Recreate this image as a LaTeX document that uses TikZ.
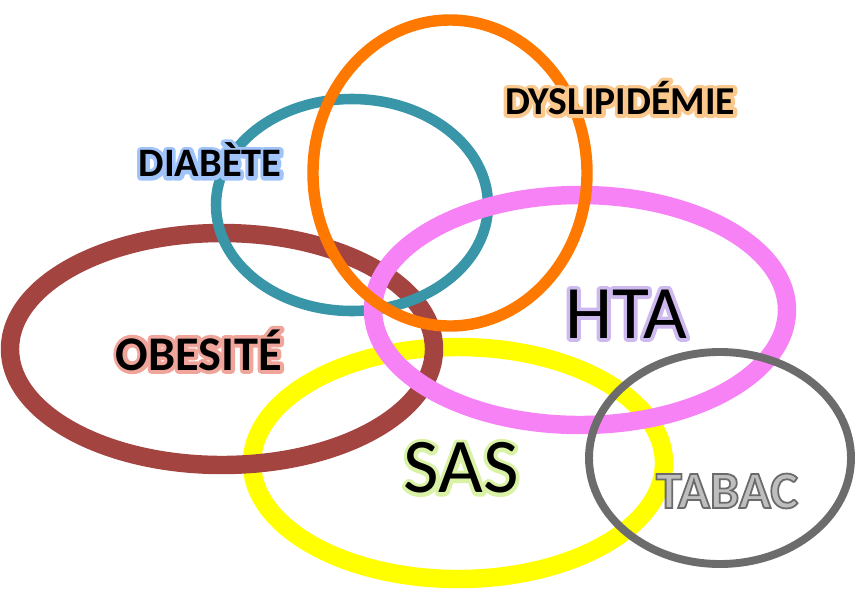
\documentclass[tikz,border=0pt]{standalone}
\usepackage{fontspec}
\setmainfont{Carlito}
\usetikzlibrary{shapes.geometric}
\definecolor{obesbrown}{RGB}{163,68,64}
\definecolor{diabteal}{RGB}{56,150,168}
\definecolor{dyslorange}{RGB}{255,120,0}
\definecolor{htapink}{RGB}{246,130,246}
\definecolor{sasyellow}{RGB}{255,255,0}
\definecolor{tabacgray}{RGB}{108,108,108}
\definecolor{tabacfill}{RGB}{190,190,190}
\definecolor{glowblue}{RGB}{160,195,250}
\definecolor{gloworange}{RGB}{250,200,140}
\definecolor{glowred}{RGB}{240,165,155}
\definecolor{glowviolet}{RGB}{205,185,238}
\definecolor{glowgreen}{RGB}{218,242,165}
% stroked copy behind the text gives the halo
\newcommand{\glowtext}[2]{\makebox[0pt][l]{\textcolor{#1}{\special{pdf:literal direct 1 Tr 4.2 w 1 J 1 j}#2\special{pdf:literal direct 0 Tr}}}#2}

\begin{document}
\begin{tikzpicture}[x=0.02cm, y=-0.02cm,
    ring/.style={draw, ellipse, inner sep=0pt, outer sep=0pt},
    lbl/.style={inner sep=0pt, text=black},
  ]
  \useasboundingbox (0,0) rectangle (858,592);

  % rings, bottom to top
  \node[ring, sasyellow, line width=10.5pt, minimum width=412*0.02cm, minimum height=232*0.02cm] (sas) at (458,463) {};
  \node[ring, obesbrown, line width=10.5pt, minimum width=424*0.02cm, minimum height=232*0.02cm] (obes) at (222,349) {};
  \node[ring, diabteal, line width=6pt, minimum width=272*0.02cm, minimum height=212*0.02cm] (diab) at (352,205) {};
  \node[ring, htapink, line width=10.5pt, minimum width=414*0.02cm, minimum height=230*0.02cm] (hta) at (580,310) {};
  \node[ring, dyslorange, line width=6.5pt, minimum width=274*0.02cm, minimum height=306*0.02cm] (dysl) at (450,173) {};
  \node[ring, tabacgray, line width=4.5pt, minimum width=262*0.02cm, minimum height=212*0.02cm] (tabac) at (720,458) {};

  % labels
  \node[lbl, font=\bfseries\fontsize{23}{23}\selectfont] (diabtxt) at (210,160) {\glowtext{glowblue}{DIABÈTE}};
  \node[lbl, font=\bfseries\fontsize{22.5}{22.5}\selectfont] (dysltxt) at (620,98) {\glowtext{gloworange}{DYSLIPIDÉMIE}};
  \node[lbl, font=\bfseries\fontsize{27.5}{27.5}\selectfont] (obestxt) at (199,350) {\glowtext{glowred}{OBESITÉ}};
  \node[lbl, font=\fontsize{43}{43}\selectfont] (htatxt) at (626,314) {\glowtext{glowviolet}{HTA}};
  \node[lbl, font=\fontsize{44}{44}\selectfont] (sastxt) at (461,468) {\glowtext{glowgreen}{SAS}};
  \node[lbl, font=\bfseries\fontsize{30}{30}\selectfont] (tabactxt) at (727,491) {\textcolor{tabacfill}{\special{pdf:literal direct 2 Tr 1 w 0.42 G}TABAC\special{pdf:literal direct 0 Tr}}};
\end{tikzpicture}
\end{document}
